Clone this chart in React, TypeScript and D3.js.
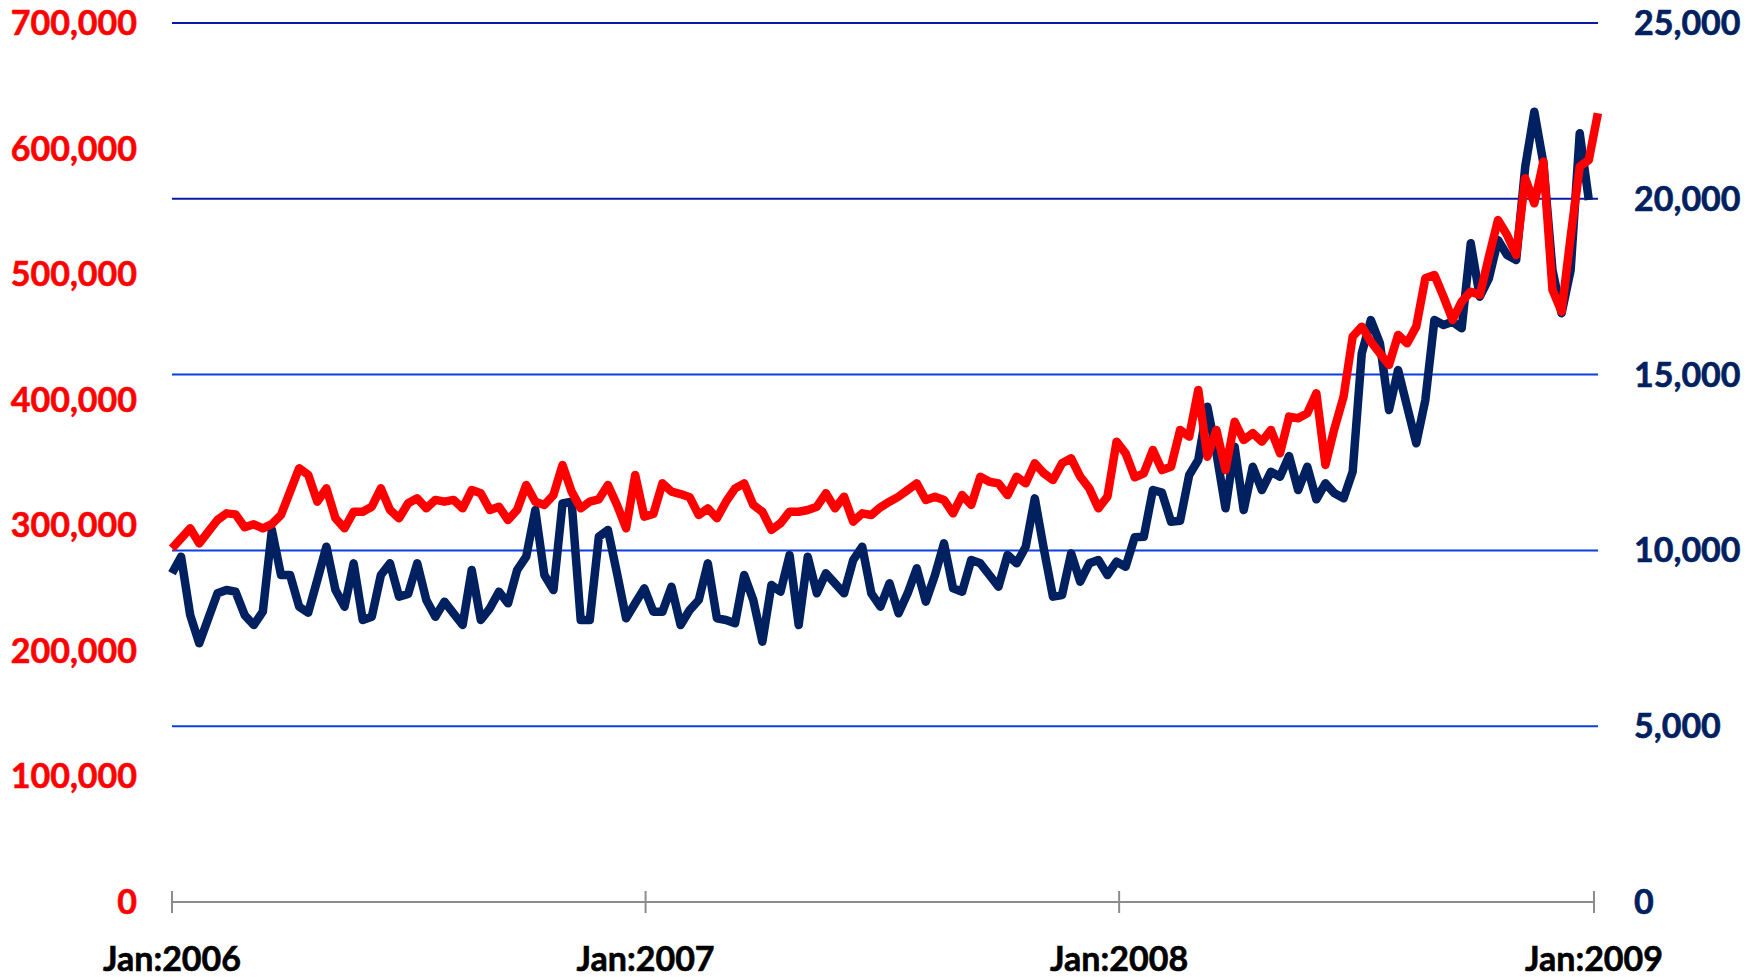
import React, { useEffect } from "react";
import * as d3 from "d3";

// Weekly series, first week starting 2006-01-01
const redValues: number[] = [
  281700, 289600, 297600, 285600, 294900, 304200, 309500, 308700, 298400, 300800,
  297600, 301000, 308200, 326800, 345400, 340100, 318800, 329400, 305600, 297600,
  310800, 310800, 314800, 329400, 312200, 305600, 317500, 321500, 313500, 320200,
  318800, 320200, 313500, 328100, 325500, 312200, 314800, 304200, 312200, 332100,
  318800, 316200, 324100, 348000, 326800, 313500, 318800, 320700, 332100, 316200,
  297600, 340100, 306900, 309000, 333400, 326800, 324900, 322300, 308200, 313500,
  305600, 318800, 329400, 333400, 316200, 310800, 296300, 301600, 310800, 310800,
  312200, 314800, 325500, 313500, 322800, 302900, 309500, 308200, 314300, 318800,
  322800, 328100, 333400, 320200, 322800, 320200, 309500, 324100, 316200, 338700,
  334700, 333400, 324100, 338700, 333400, 349400, 341400, 336100, 349400, 353300,
  338700, 329400, 313500, 322800, 366600, 357300, 338200, 341400, 360000, 344000,
  346700, 375900, 370600, 407800, 354600, 375900, 344000, 382500, 367900, 373300,
  366600, 375900, 357300, 386500, 385200, 389200, 405100, 348000, 377200, 402400,
  450200, 458200, 446200, 437000, 427700, 451600, 444900, 458200, 496700, 499300,
  482100, 463500, 478100, 486000, 483400, 513900, 543100, 531200, 515300, 576300,
  556400, 589600, 487400, 470100, 529800, 585600, 590900, 628100,
];

const navyValues: number[] = [
  9348, 9821, 8162, 7357, 8068, 8779, 8873, 8826, 8162, 7878,
  8257, 10580, 9300, 9300, 8399, 8228, 9158, 10105, 8873, 8399,
  9632, 8020, 8115, 9300, 9632, 8684, 8760, 9632, 8589, 8115,
  8542, 8210, 7878, 9442, 8020, 8353, 8826, 8495, 9442, 9821,
  11148, 9300, 8873, 11339, 11385, 8020, 8020, 10389, 10580, 9348,
  8068, 8495, 8921, 8257, 8257, 8967, 7878, 8304, 8589, 9632,
  8068, 8020, 7926, 9300, 8589, 7403, 9015, 8826, 9869, 7878,
  9821, 8779, 9348, 9064, 8779, 9726, 10105, 8779, 8399, 9064,
  8210, 8779, 9490, 8542, 9291, 10201, 8921, 8826, 9726, 9632,
  9300, 8967, 9869, 9632, 10105, 11481, 10031, 8684, 8731, 9917,
  9109, 9632, 9726, 9300, 9678, 9536, 10372, 10389, 11717, 11641,
  10816, 10844, 12144, 12570, 14087, 12761, 11197, 12949, 11148, 12380,
  11717, 12238, 12096, 12684, 11717, 12380, 11453, 11908, 11623, 11481,
  12238, 15605, 16552, 15889, 13992, 15130, 14087, 13045, 14277, 16552,
  16410, 16504, 16316, 18733, 17215, 17738, 18827, 18401, 18258, 20912,
  22476, 21009, 17974, 16743, 17974, 21862, 19965,
];

const leftTicks: number[] = [0, 100000, 200000, 300000, 400000, 500000, 600000, 700000];
const rightTicks: number[] = [0, 5000, 10000, 15000, 20000, 25000];
const yearTicks: number[] = [2006, 2007, 2008, 2009];

const W = 1756;
const H = 977;
const X0 = 172;
const X1 = 1594;
const Y0 = 902;
const YTOP = 23;
const GRID_RIGHT = 1598;

const RED = "#FF0000";
const NAVY = "#002060";
const FONT = "Lato, 'Open Sans', 'DejaVu Sans', sans-serif";

const weekDate = (i: number) => new Date(Date.UTC(2006, 0, 1 + 7 * i));

export default function App() {
  useEffect(() => {
    document.body.style.margin = "0";
    document.body.style.overflow = "hidden";
  }, []);

  const x = d3
    .scaleUtc()
    .domain([new Date(Date.UTC(2006, 0, 1)), new Date(Date.UTC(2009, 0, 1))])
    .range([X0, X1]);
  const yLeft = d3.scaleLinear().domain([0, 700000]).range([Y0, YTOP]);
  const yRight = d3.scaleLinear().domain([0, 25000]).range([Y0, YTOP]);

  const redLine = d3
    .line<number>()
    .x((_, i) => x(weekDate(i)))
    .y((d) => yLeft(d));
  const navyLine = d3
    .line<number>()
    .x((_, i) => x(weekDate(i)))
    .y((d) => yRight(d));

  const gridColor = (v: number) => (v >= 20000 ? "#0A1AA6" : "#0A3FE0");

  return (
    <svg
      width={W}
      height={H}
      style={{ position: "absolute", left: 0, top: 0, display: "block", background: "#fff" }}
      fontFamily={FONT}
      fontWeight={700}
    >
      {rightTicks
        .filter((t) => t > 0)
        .map((t) => (
          <line
            key={"g" + t}
            x1={X0}
            x2={GRID_RIGHT}
            y1={yRight(t)}
            y2={yRight(t)}
            stroke={gridColor(t)}
            strokeWidth={2}
          />
        ))}
      <line x1={X0} x2={X1} y1={Y0} y2={Y0} stroke="#8C8C8C" strokeWidth={2} />
      {yearTicks.map((yr) => {
        const xx = x(new Date(Date.UTC(yr, 0, 1)));
        return (
          <g key={"x" + yr}>
            <line x1={xx} x2={xx} y1={Y0 - 11} y2={Y0 + 11} stroke="#8C8C8C" strokeWidth={2} />
            <text x={xx} y={971} textAnchor="middle" fontSize={34} fill="#000" stroke="#000" strokeWidth={0.6}>
              {"Jan:" + yr}
            </text>
          </g>
        );
      })}
      {leftTicks.map((t) => (
        <text
          key={"l" + t}
          x={137}
          y={yLeft(t) + 12}
          textAnchor="end"
          fontSize={34}
          fill={RED}
          stroke={RED}
          strokeWidth={0.6}
        >
          {d3.format(",")(t)}
        </text>
      ))}
      {rightTicks.map((t) => (
        <text
          key={"r" + t}
          x={1634}
          y={yRight(t) + 12}
          textAnchor="start"
          fontSize={34}
          fill={NAVY}
          stroke={NAVY}
          strokeWidth={0.6}
        >
          {d3.format(",")(t)}
        </text>
      ))}
      <path
        d={navyLine(navyValues) || ""}
        fill="none"
        stroke={NAVY}
        strokeWidth={8.5}
        strokeLinejoin="round"
        strokeLinecap="butt"
      />
      <path
        d={redLine(redValues) || ""}
        fill="none"
        stroke={RED}
        strokeWidth={8.5}
        strokeLinejoin="round"
        strokeLinecap="butt"
      />
    </svg>
  );
}
